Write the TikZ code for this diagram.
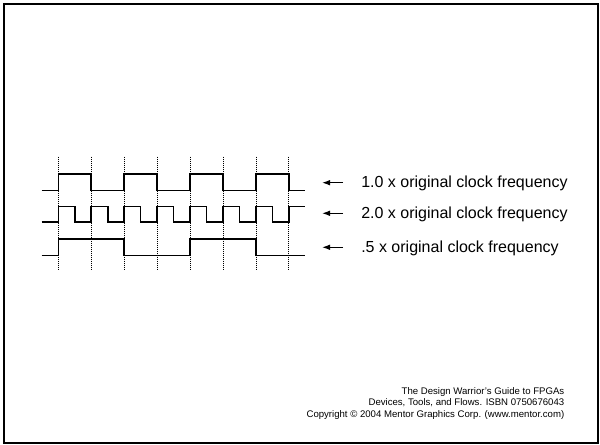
\documentclass[tikz,border=0pt]{standalone}
\usepackage{fontspec}
\setmainfont{Liberation Sans}
\usepackage{tikz}
\usetikzlibrary{arrows.meta, positioning}
\tikzset{
  wave/.style={line width=1.2pt, line join=miter, color=black},
  guide/.style={dash pattern=on 0.75pt off 0.75pt, line width=0.75pt, color=black},
  freq/.style={
    anchor=west, inner xsep=13.5pt, inner ysep=0pt,
    text height=0.72em, text depth=0pt, font=\fontsize{12pt}{14pt}\selectfont
  },
  arrow/.style={
    -{Latex[length=6pt,width=4.2pt]}, line width=0.9pt, color=black
  }
}

\begin{document}
\begin{tikzpicture}[x=0.75pt, y=-0.75pt,
  credit/.style={align=right, inner sep=0pt, font=\fontsize{7.2pt}{8.8pt}\selectfont}
]
\useasboundingbox (0,0) rectangle (600,445);
\draw[line width=1.5pt] (3.8,3.8) rectangle (597.5,443);

% clock edges
\foreach \i in {0,...,7}
  \draw[guide] ({58.3+32.95*\i},156.7) -- ++(0,113.3);

% 1.0 x
\draw[wave] (41.7,190.7) \foreach \i in {0,2,4,6} {
  -- ({58.3+32.95*\i},190.7) -- ++(0,-16.7) -- ++(32.95,0) -- ++(0,16.7) } -- (305,190.7);
% 2.0 x
\draw[wave] (41.7,222.3) \foreach \i in {0,...,6} {
  -- ({58.3+32.95*\i},222.3) -- ++(0,-15.6) -- ++(16.475,0) -- ++(0,15.6) }
  -- (289,222.3) -- ++(0,-15.6) -- (305,206.7);
% .5 x
\draw[wave] (41.7,255.7) -- (58.3,255.7) -- (58.3,239.3) -- (124.2,239.3) -- (124.2,255.7)
  -- (190.1,255.7) -- (190.1,239.3) -- (256,239.3) -- (256,255.7) -- (305,255.7);

\node[freq] (f1) at (343,182.7) {1.0 x original clock frequency};
\node[freq] (f2) at (343,213.3) {2.0 x original clock frequency};
\node[freq] (f3) at (343,247.3) {.5 x original clock frequency};

\coordinate[left=15.75pt of f1.west] (tip1);
\coordinate[left=15.75pt of f2.west] (tip2);
\coordinate[left=15.75pt of f3.west] (tip3);

\draw[arrow] (f1.west) -- (tip1);
\draw[arrow] (f2.west) -- (tip2);
\draw[arrow] (f3.west) -- (tip3);

\node[credit, anchor=base east] (credit) at (564.5,417.5)
  {The Design Warrior's Guide to FPGAs\\Devices, Tools, and Flows. ISBN 0750676043\\Copyright © 2004 Mentor Graphics Corp. (www.mentor.com)};

\end{tikzpicture}
\end{document}
